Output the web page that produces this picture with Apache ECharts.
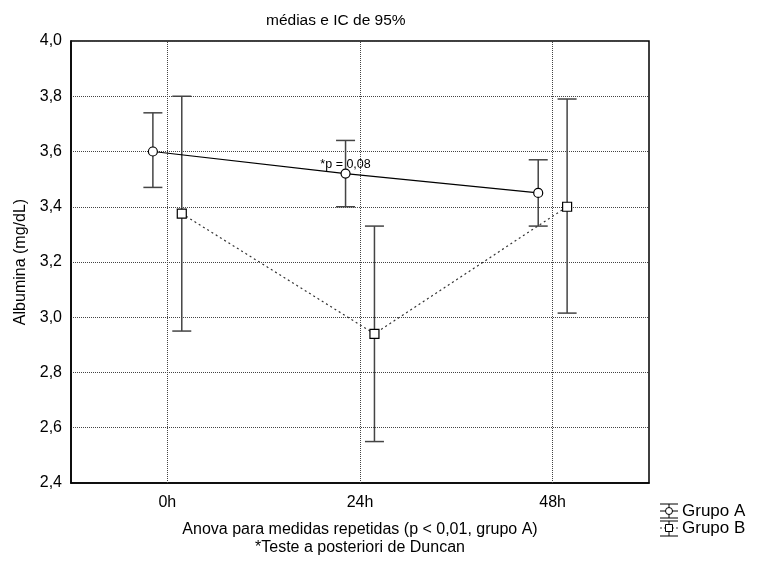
<!DOCTYPE html>
<html><head><meta charset="utf-8">
<script src="https://cdn.jsdelivr.net/npm/echarts@6/dist/echarts.min.js"></script>
<style>html,body{margin:0;padding:0;background:#fff}#c{width:757px;height:561px}</style>
</head><body><div id="c"></div>
<script>
// ---- data ----
const categories = ['0h', '24h', '48h'];
const grupoA_mean  = [3.60, 3.52, 3.45];
const grupoA_upper = [3.74, 3.64, 3.57];
const grupoA_lower = [3.47, 3.40, 3.33];
const grupoB_mean  = [3.375, 2.94, 3.40];
const grupoB_upper = [3.80, 3.33, 3.79];
const grupoB_lower = [2.95, 2.55, 3.015];
const seriesNames = ['Grupo A', 'Grupo B'];
const annotationText = '*p = 0,08';
const annotationIndex = 1; // on Grupo A at 24h
const titleText = 'médias e IC de 95%';
const yName = 'Albumina (mg/dL)';
const xName = 'Anova para medidas repetidas (p < 0,01, grupo A)\n*Teste a posteriori de Duncan';

// ---- style ----
const FONT = "'Liberation Sans', Arial, sans-serif";
const FS = 16;
const dodge = 0.075;

function pts(vals, off) { return vals.map((v, i) => [i + off, v]); }
function errData(lo, hi, off) { return lo.map((l, i) => [i + off, l, hi[i]]); }

function errRender(params, api) {
  const x = api.value(0);
  const lo = api.coord([x, api.value(1)]);
  const hi = api.coord([x, api.value(2)]);
  const w = 9.5;
  const style = { stroke: '#444', lineWidth: 1.5 };
  return { type: 'group', children: [
    { type: 'line', shape: { x1: lo[0], y1: lo[1], x2: hi[0], y2: hi[1] }, style },
    { type: 'line', shape: { x1: lo[0] - w, y1: lo[1], x2: lo[0] + w, y2: lo[1] }, style },
    { type: 'line', shape: { x1: hi[0] - w, y1: hi[1], x2: hi[0] + w, y2: hi[1] }, style }
  ]};
}

const aData = pts(grupoA_mean, -dodge).map((p, i) => i === annotationIndex ? {
  value: p,
  label: { show: true, formatter: annotationText, position: 'top', distance: 0, offset: [0, 3],
           fontSize: 12.5, fontFamily: FONT, color: '#000' }
} : p);

const chart = echarts.init(document.getElementById('c'), null, { renderer: 'canvas' });
chart.setOption({
  animation: false,
  backgroundColor: '#fff',
  title: { text: titleText, left: 261, top: 8,
           textStyle: { fontSize: 15.5, fontWeight: 'normal', fontFamily: FONT, color: '#000' } },
  grid: { left: 71, right: 108, top: 41, bottom: 78, outerBoundsMode: 'none', containLabel: false,
          show: true, borderColor: '#000', borderWidth: 1.5 },
  xAxis: [
    { type: 'category', data: categories, boundaryGap: true,
      axisLine: { show: true, onZero: false, lineStyle: { color: '#000', width: 1.5 } },
      axisTick: { show: false }, splitLine: { show: false },
      axisLabel: { fontSize: FS, fontFamily: FONT, color: '#000', margin: 12 },
      name: xName, nameLocation: 'middle', nameGap: 38,
      nameTextStyle: { fontSize: FS, fontFamily: FONT, color: '#000', lineHeight: 18 } },
    { type: 'value', min: -0.5, max: 2.5, show: false }
  ],
  yAxis: {
    type: 'value', min: 2.4, max: 4.0, interval: 0.2,
    axisLine: { show: true, onZero: false, lineStyle: { color: '#000', width: 1.5 } },
    axisTick: { show: false },
    axisLabel: { fontSize: FS, fontFamily: FONT, color: '#000', margin: 9,
                 formatter: v => v.toFixed(1).replace('.', ',') },
    splitLine: { show: true, lineStyle: { type: 'dotted', color: '#444', width: 1 } },
    name: yName, nameLocation: 'middle', nameGap: 38,
    nameTextStyle: { fontSize: FS, fontFamily: FONT, color: '#000' }
  },
  series: [
    { type: 'custom', name: 'errA', xAxisIndex: 1, renderItem: errRender,
      data: errData(grupoA_lower, grupoA_upper, -dodge), z: 2,
      encode: { x: 0, y: [1, 2] },
      markLine: { silent: true, symbol: 'none', label: { show: false },
        lineStyle: { type: 'dotted', color: '#444', width: 1 },
        data: categories.map((c, i) => ({ xAxis: i })) } },
    { type: 'custom', name: 'errB', xAxisIndex: 1, renderItem: errRender,
      data: errData(grupoB_lower, grupoB_upper, dodge), z: 2,
      encode: { x: 0, y: [1, 2] } },
    { type: 'line', name: seriesNames[0], xAxisIndex: 1, data: aData, z: 5,
      symbol: 'circle', symbolSize: 9, showAllSymbol: true,
      itemStyle: { color: '#fff', borderColor: '#000', borderWidth: 1.2 },
      lineStyle: { color: '#000', width: 1.2 } },
    { type: 'line', name: seriesNames[1], xAxisIndex: 1, data: pts(grupoB_mean, dodge), z: 5,
      symbol: 'rect', symbolSize: 9, showAllSymbol: true,
      itemStyle: { color: '#fff', borderColor: '#000', borderWidth: 1.2 },
      lineStyle: { color: '#333', width: 1.2, type: [2, 3] } }
  ],
  graphic: [
    // legend Grupo A
    { type: 'line', shape: { x1: 660, y1: 504, x2: 678, y2: 504 }, style: { stroke: '#000', lineWidth: 1 } },
    { type: 'line', shape: { x1: 660, y1: 518, x2: 678, y2: 518 }, style: { stroke: '#000', lineWidth: 1 } },
    { type: 'line', shape: { x1: 669, y1: 504, x2: 669, y2: 518 }, style: { stroke: '#000', lineWidth: 1 } },
    { type: 'line', shape: { x1: 660, y1: 511, x2: 678, y2: 511 }, style: { stroke: '#000', lineWidth: 1 } },
    { type: 'circle', shape: { cx: 669, cy: 511, r: 3.5 }, style: { fill: '#fff', stroke: '#000', lineWidth: 1 } },
    { type: 'text', x: 682, y: 511, style: { text: seriesNames[0], fontSize: 17, fontFamily: FONT, fill: '#000', verticalAlign: 'middle' } },
    // legend Grupo B
    { type: 'line', shape: { x1: 660, y1: 521, x2: 678, y2: 521 }, style: { stroke: '#000', lineWidth: 1 } },
    { type: 'line', shape: { x1: 660, y1: 536, x2: 678, y2: 536 }, style: { stroke: '#000', lineWidth: 1 } },
    { type: 'line', shape: { x1: 669, y1: 521, x2: 669, y2: 536 }, style: { stroke: '#000', lineWidth: 1 } },
    { type: 'line', shape: { x1: 660, y1: 528, x2: 678, y2: 528 }, style: { stroke: '#333', lineWidth: 1, lineDash: [2, 2] } },
    { type: 'rect', shape: { x: 665.5, y: 524.5, width: 7, height: 7 }, style: { fill: '#fff', stroke: '#000', lineWidth: 1 } },
    { type: 'text', x: 682, y: 528, style: { text: seriesNames[1], fontSize: 17, fontFamily: FONT, fill: '#000', verticalAlign: 'middle' } }
  ]
});
</script>
</body></html>
